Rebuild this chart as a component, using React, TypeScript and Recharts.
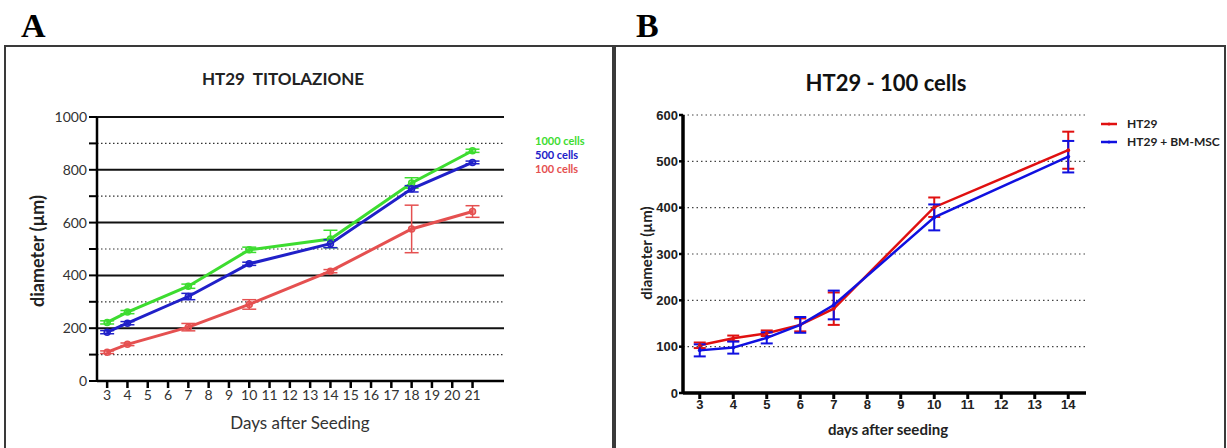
import React from "react";
import { LineChart, Line, XAxis, YAxis, ErrorBar, ReferenceLine } from "recharts";

// ---------- Panel A data ----------
const daysA = [3, 4, 7, 10, 14, 18, 21];
const cells1000 = [222, 261, 359, 497, 538, 750, 872];
const cells1000Err = [6, 6, 8, 10, 33, 20, 6];
const cells500 = [185, 219, 320, 444, 520, 728, 828];
const cells500Err = [6, 6, 12, 6, 15, 12, 5];
const cells100 = [109, 139, 204, 290, 416, 576, 642];
const cells100Err = [5, 5, 14, 18, 6, 90, 22];
const xTicksA = [3, 4, 5, 6, 7, 8, 9, 10, 11, 12, 13, 14, 15, 16, 17, 18, 19, 20, 21];
const yTicksA = [0, 100, 200, 300, 400, 500, 600, 700, 800, 900, 1000];
const majorGridA = [200, 400, 600, 800, 1000];
const minorGridA = [100, 300, 500, 700, 900];
const seriesA = [
  { key: "g", name: "1000 cells", color: "#3ddc30" },
  { key: "b", name: "500 cells", color: "#2020c8" },
  { key: "r", name: "100 cells", color: "#e55050" },
];

// ---------- Panel B data ----------
const daysB = [3, 4, 5, 6, 7, 10, 14];
const ht29 = [103, 118, 129, 147, 182, 401, 524];
const ht29Err = [6, 6, 6, 14, 35, 21, 40];
const ht29Msc = [92, 98, 119, 147, 190, 379, 510];
const ht29MscErr = [13, 13, 12, 17, 31, 28, 34];
const xTicksB = [3, 4, 5, 6, 7, 8, 9, 10, 11, 12, 13, 14];
const yTicksB = [0, 100, 200, 300, 400, 500, 600];
const gridB = [100, 200, 300, 400, 500, 600];
const seriesB = [
  { key: "h", name: "HT29", color: "#e01010" },
  { key: "m", name: "HT29 + BM-MSC", color: "#1010e0" },
];

const dataA = daysA.map((d, i) => ({
  day: d,
  g: cells1000[i],
  ge: cells1000Err[i],
  b: cells500[i],
  be: cells500Err[i],
  r: cells100[i],
  re: cells100Err[i],
}));

const dataB = daysB.map((d, i) => ({
  day: d,
  h: ht29[i],
  he: ht29Err[i],
  m: ht29Msc[i],
  me: ht29MscErr[i],
}));

const fontA = "Lato, 'Open Sans', sans-serif";
const fontB = "'Liberation Sans', Arial, sans-serif";

const centered = (x: number, y: number, extra: React.CSSProperties = {}): React.CSSProperties => ({
  position: "absolute",
  left: x,
  top: y,
  transform: "translate(-50%, -50%)",
  lineHeight: 1,
  whiteSpace: "pre",
  ...extra,
});

export default function App() {
  return (
    <div
      style={{
        position: "absolute",
        left: 0,
        top: 0,
        width: 1227,
        height: 448,
        overflow: "hidden",
        background: "#fff",
      }}
    >
      {/* Panel letters */}
      <div style={{ position: "absolute", left: 21, top: 9, fontFamily: "'Liberation Serif', serif", fontWeight: 700, fontSize: 34, lineHeight: 1 }}>A</div>
      <div style={{ position: "absolute", left: 636, top: 9, fontFamily: "'Liberation Serif', serif", fontWeight: 700, fontSize: 34, lineHeight: 1 }}>B</div>

      {/* Frames */}
      <div style={{ position: "absolute", left: 4, top: 45, width: 606, height: 420, border: "2px solid #3a3a3a" }} />
      <div style={{ position: "absolute", left: 614, top: 45, width: 608, height: 420, border: "2px solid #3a3a3a" }} />

      {/* Panel A chart */}
      <div style={{ position: "absolute", left: 0, top: 0 }}>
        <LineChart width={612} height={448} data={dataA} margin={{ top: 117, right: 108, bottom: 37, left: 37 }}>
          {minorGridA.map((v) => (
            <ReferenceLine key={"mi" + v} y={v} stroke="#333" strokeWidth={1.2} strokeDasharray="1.5 2.5" />
          ))}
          {majorGridA.map((v) => (
            <ReferenceLine key={"ma" + v} y={v} stroke="#111" strokeWidth={2} />
          ))}
          <XAxis
            type="number"
            dataKey="day"
            domain={[2.5, 22.55]}
            ticks={xTicksA}
            interval={0}
            allowDataOverflow
            height={30}
            tickSize={7}
            tickMargin={2}
            axisLine={{ stroke: "#000", strokeWidth: 2.5 }}
            tickLine={{ stroke: "#000", strokeWidth: 2.5 }}
            tick={{ fill: "#333", fontSize: 14, fontFamily: fontA }}
          />
          <YAxis
            type="number"
            domain={[0, 1000]}
            ticks={yTicksA}
            interval={0}
            width={60}
            tickSize={8}
            tickMargin={2}
            tickFormatter={(v: number) => (v % 200 === 0 ? String(v) : "")}
            axisLine={{ stroke: "#000", strokeWidth: 2.5 }}
            tickLine={{ stroke: "#000", strokeWidth: 2 }}
            tick={{ fill: "#333", fontSize: 14, fontFamily: fontA }}
          />
          {seriesA.map((s) => (
            <Line
              key={s.key}
              dataKey={s.key}
              name={s.name}
              stroke={s.color}
              strokeWidth={3}
              isAnimationActive={false}
              dot={{ r: 3, stroke: s.color, strokeWidth: 1.5, fill: s.color, fillOpacity: 0.5 }}
              activeDot={false}
            >
              <ErrorBar dataKey={s.key + "e"} width={7} strokeWidth={1.5} stroke={s.color} direction="y" isAnimationActive={false} />
            </Line>
          ))}
        </LineChart>
      </div>

      {/* Panel A texts */}
      <div style={centered(283, 78, { fontFamily: fontA, fontWeight: 700, fontSize: 17, color: "#222" })}>HT29  TITOLAZIONE</div>
      <div style={centered(37, 251, { fontFamily: fontA, fontWeight: 700, fontSize: 18, color: "#222", transform: "translate(-50%, -50%) rotate(-90deg)" })}>diameter (µm)</div>
      <div style={centered(300, 422, { fontFamily: fontA, fontSize: 17, color: "#333" })}>Days after Seeding</div>
      {seriesA.map((s, i) => (
        <div
          key={"lgA" + s.key}
          style={{
            position: "absolute",
            left: 535,
            top: 135 + i * 14,
            fontFamily: fontA,
            fontWeight: 700,
            fontSize: 11,
            lineHeight: "12px",
            color: s.color,
            whiteSpace: "pre",
          }}
        >
          {s.name}
        </div>
      ))}

      {/* Panel B chart */}
      <div style={{ position: "absolute", left: 612, top: 0 }}>
        <LineChart width={615} height={448} data={dataB} margin={{ top: 115, right: 141, bottom: 30, left: 26 }}>
          {gridB.map((v) => (
            <ReferenceLine key={"gb" + v} y={v} stroke="#444" strokeWidth={1.2} strokeDasharray="1.5 3" />
          ))}
          <XAxis
            type="number"
            dataKey="day"
            domain={[2.5, 14.53]}
            ticks={xTicksB}
            interval={0}
            allowDataOverflow
            height={25}
            tickSize={6}
            tickMargin={1}
            axisLine={{ stroke: "#000", strokeWidth: 3.5 }}
            tickLine={{ stroke: "#000", strokeWidth: 3 }}
            tick={{ fill: "#222", fontSize: 13, fontWeight: 700, fontFamily: fontB }}
          />
          <YAxis
            type="number"
            domain={[0, 600]}
            ticks={yTicksB}
            interval={0}
            width={45}
            tickSize={4}
            tickMargin={1}
            axisLine={{ stroke: "#000", strokeWidth: 3.5 }}
            tickLine={{ stroke: "#000", strokeWidth: 2.5 }}
            tick={{ fill: "#222", fontSize: 13, fontWeight: 700, fontFamily: fontB }}
          />
          {seriesB.map((s) => (
            <Line
              key={s.key}
              dataKey={s.key}
              name={s.name}
              stroke={s.color}
              strokeWidth={2.5}
              isAnimationActive={false}
              dot={{ r: 1.5, stroke: s.color, strokeWidth: 1, fill: s.color }}
              activeDot={false}
            >
              <ErrorBar dataKey={s.key + "e"} width={6} strokeWidth={2} stroke={s.color} direction="y" isAnimationActive={false} />
            </Line>
          ))}
        </LineChart>
      </div>

      {/* Panel B texts */}
      <div style={centered(886, 83, { fontFamily: fontA, fontWeight: 700, fontSize: 22, color: "#111" })}>HT29 - 100 cells</div>
      <div style={centered(646, 253, { fontFamily: fontA, fontWeight: 700, fontSize: 15, color: "#222", transform: "translate(-50%, -50%) rotate(-90deg)" })}>diameter (µm)</div>
      <div style={centered(888, 429, { fontFamily: fontA, fontWeight: 700, fontSize: 15, color: "#222" })}>days after seeding</div>
      {seriesB.map((s, i) => (
        <div key={"lgB" + s.key} style={{ position: "absolute", left: 1101, top: 117 + i * 18, height: 14, display: "flex", alignItems: "center" }}>
          <svg width={17} height={14} style={{ display: "block" }}>
            <line x1={0} y1={7} x2={16} y2={7} stroke={s.color} strokeWidth={2.5} />
            <circle cx={8} cy={7} r={1.5} fill={s.color} />
          </svg>
          <span style={{ marginLeft: 9, fontFamily: fontA, fontWeight: 700, fontSize: 12, color: "#222", whiteSpace: "pre", lineHeight: 1 }}>{s.name}</span>
        </div>
      ))}
    </div>
  );
}
